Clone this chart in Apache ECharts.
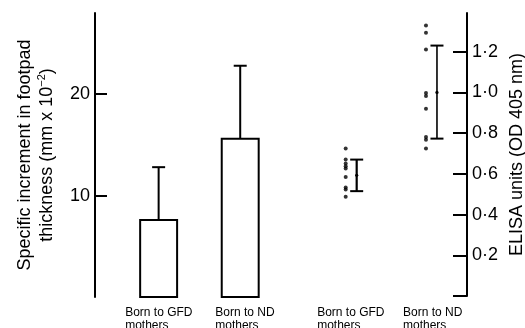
<!DOCTYPE html>
<html><head><meta charset="utf-8">
<script src="https://cdn.jsdelivr.net/npm/echarts@6/dist/echarts.min.js"></script>
<style>html,body{margin:0;padding:0;background:#fff}#c{width:525px;height:328px}</style>
</head><body><div id="c"></div>
<script>
const categories = ['Born to GFD\nmothers', 'Born to ND\nmothers'];
const groupX = [1, 2];
const footpadMean = [7.6, 15.6];
const footpadUpper = [12.8, 22.8];
const footpadTicks = [10, 20];
const elisaGFD = [0.724, 0.670, 0.651, 0.637, 0.626, 0.585, 0.533, 0.523, 0.487];
const elisaND = [1.328, 1.293, 1.211, 0.997, 0.982, 0.920, 0.781, 0.768, 0.724];
const elisaMean = [0.593, 1.0];
const elisaLower = [0.515, 0.773];
const elisaUpper = [0.670, 1.23];
const elisaTicks = [0, 0.2, 0.4, 0.6, 0.8, 1.0, 1.2];
const elisaLabels = [0.2, 0.4, 0.6, 0.8, 1.0, 1.2];

const FONT = 'Liberation Sans, Arial, sans-serif';
const INK = '#000';

function catLabel(keys) {
  return function (v) {
    const i = Math.round(v) - 1;
    if (i < 0 || i >= categories.length) return '';
    return categories[i].split('\n').map(s => '{' + keys[i] + '|' + s + '}').join('\n');
  };
}
const labelRich = w => ({ width: w, align: 'left', fontSize: 12, lineHeight: 13, color: INK, fontFamily: FONT });

const chart = echarts.init(document.getElementById('c'), null, { renderer: 'canvas' });
chart.setOption({
  animation: false,
  backgroundColor: '#fff',
  grid: [
    { left: 95, top: 13, width: 186, bottom: 31, outerBoundsMode: 'none', containLabel: false },
    { left: 300, top: 13, right: 58, bottom: 32, outerBoundsMode: 'none', containLabel: false }
  ],
  xAxis: [
    {
      gridIndex: 0, type: 'value', min: 0.22, max: 2.5,
      axisLine: { show: false }, axisTick: { show: false }, splitLine: { show: false },
      axisLabel: {
        customValues: groupX, margin: 9, formatter: catLabel(['a', 'b']),
        rich: { a: labelRich(67), b: labelRich(50) }
      }
    },
    {
      gridIndex: 1, type: 'value', min: 0.294, max: 2.374,
      axisLine: { show: false }, axisTick: { show: false }, splitLine: { show: false },
      axisLabel: {
        customValues: groupX, margin: 10, formatter: catLabel(['c', 'd']),
        rich: { c: labelRich(79), d: labelRich(68) }
      }
    }
  ],
  yAxis: [
    {
      gridIndex: 0, type: 'value', min: 0, max: 28,
      axisLine: { show: true, onZero: false, lineStyle: { color: INK, width: 2 } },
      axisTick: { show: true, inside: true, length: 12, customValues: footpadTicks, lineStyle: { color: INK, width: 2 } },
      axisLabel: { customValues: footpadTicks, fontSize: 18, color: INK, fontFamily: FONT, margin: 5 },
      splitLine: { show: false },
      name: 'Specific increment in footpad\nthickness (mm x 10{sup|−2})',
      nameLocation: 'middle', nameRotate: 90, nameGap: 37,
      nameTextStyle: {
        fontSize: 18, lineHeight: 22, color: INK, fontFamily: FONT,
        rich: { sup: { fontSize: 11, verticalAlign: 'top', lineHeight: 22, color: INK, fontFamily: FONT } }
      }
    },
    {
      gridIndex: 1, type: 'value', position: 'right', min: 0, max: 1.39,
      axisLine: { show: true, onZero: false, lineStyle: { color: INK, width: 2 } },
      axisTick: { show: true, inside: true, length: 14, customValues: elisaTicks, lineStyle: { color: INK, width: 2 } },
      axisLabel: {
        customValues: elisaLabels, fontSize: 18, color: INK, fontFamily: FONT, margin: 5,
        formatter: v => v.toFixed(1).replace('.', '·')
      },
      splitLine: { show: false },
      name: 'ELISA units (OD 405 nm)',
      nameLocation: 'middle', nameRotate: 90, nameGap: 41,
      nameTextStyle: { fontSize: 18, color: INK, fontFamily: FONT }
    }
  ],
  series: [
    {
      type: 'custom', xAxisIndex: 0, yAxisIndex: 0, clip: false,
      data: groupX.map((x, i) => [x, footpadMean[i], footpadUpper[i]]),
      renderItem: function (params, api) {
        const x = api.value(0), v = api.value(1), up = api.value(2);
        const p0 = api.coord([x, 0]), p1 = api.coord([x, v]), p2 = api.coord([x, up]);
        const w = api.size([0.453, 0])[0];
        const cap = 13;
        return {
          type: 'group', children: [
            { type: 'line', shape: { x1: p1[0], y1: p1[1], x2: p2[0], y2: p2[1] }, style: { stroke: INK, lineWidth: 2 } },
            { type: 'line', shape: { x1: p2[0] - cap / 2, y1: p2[1], x2: p2[0] + cap / 2, y2: p2[1] }, style: { stroke: INK, lineWidth: 2 } },
            { type: 'rect', shape: { x: p0[0] - w / 2, y: p1[1], width: w, height: p0[1] - p1[1] }, style: { fill: '#fff', stroke: INK, lineWidth: 2 } }
          ]
        };
      }
    },
    {
      type: 'scatter', xAxisIndex: 1, yAxisIndex: 1, symbol: 'circle', symbolSize: 4, symbolOffset: [-11, 0],
      itemStyle: { color: INK },
      data: elisaGFD.map(v => [groupX[0], v]).concat(elisaND.map(v => [groupX[1], v]))
    },
    {
      type: 'custom', xAxisIndex: 1, yAxisIndex: 1, clip: false,
      data: groupX.map((x, i) => [x, elisaMean[i], elisaLower[i], elisaUpper[i]]),
      renderItem: function (params, api) {
        const x = api.value(0);
        const pm = api.coord([x, api.value(1)]), pl = api.coord([x, api.value(2)]), pu = api.coord([x, api.value(3)]);
        const cap = 13;
        const lw = params.dataIndex === 0 ? 2.2 : 1.6;
        return {
          type: 'group', children: [
            { type: 'line', shape: { x1: pl[0], y1: pl[1], x2: pu[0], y2: pu[1] }, style: { stroke: INK, lineWidth: lw } },
            { type: 'line', shape: { x1: pu[0] - cap / 2, y1: pu[1], x2: pu[0] + cap / 2, y2: pu[1] }, style: { stroke: INK, lineWidth: 2 } },
            { type: 'line', shape: { x1: pl[0] - cap / 2, y1: pl[1], x2: pl[0] + cap / 2, y2: pl[1] }, style: { stroke: INK, lineWidth: 2 } },
            { type: 'circle', shape: { cx: pm[0], cy: pm[1], r: 1.6 }, style: { fill: INK } }
          ]
        };
      }
    }
  ]
});
</script>
</body></html>
